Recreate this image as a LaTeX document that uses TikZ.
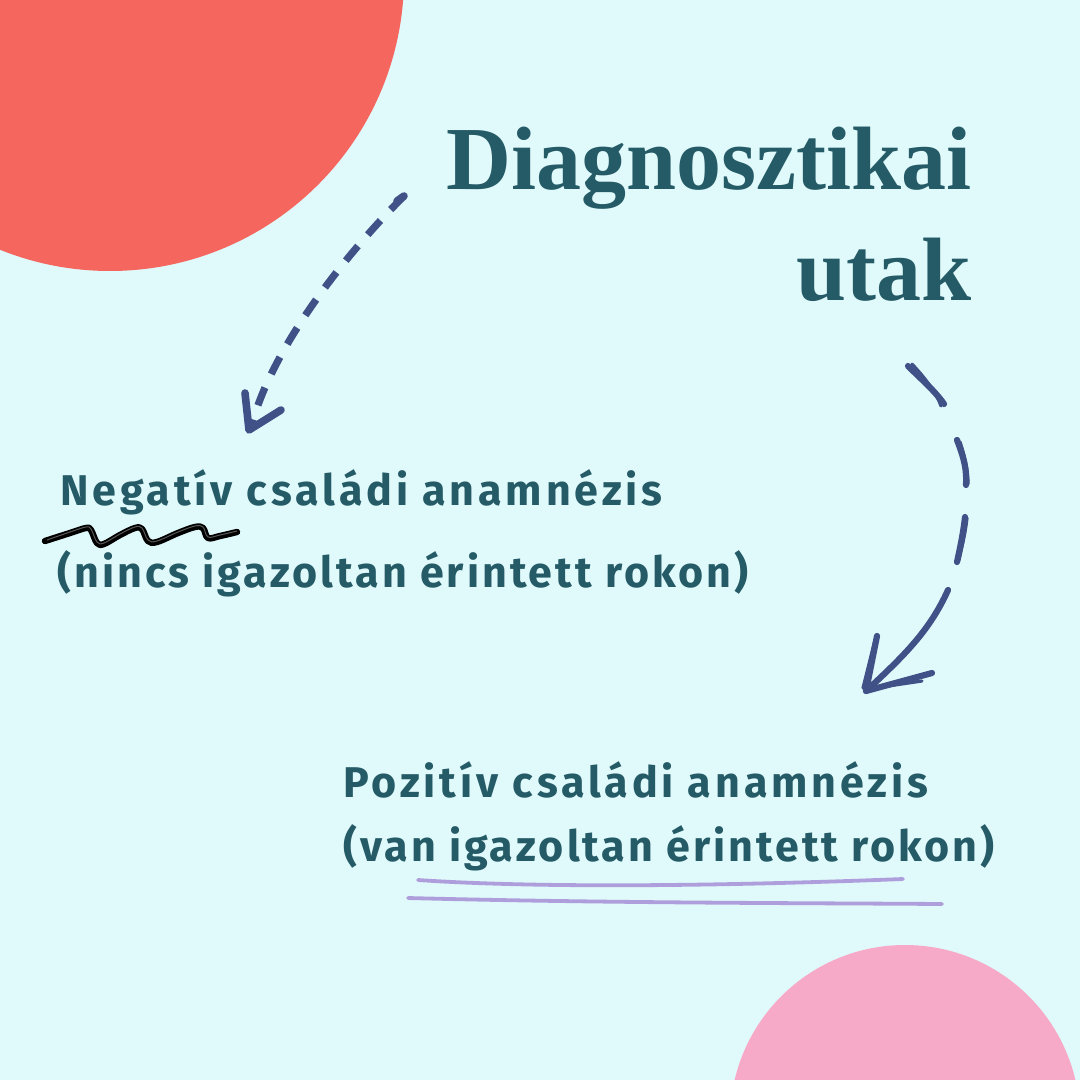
\documentclass[tikz,border=0pt]{standalone}
\usepackage{fontspec}
\newfontfamily\titlefont{Liberation Serif}
\newfontfamily\bodyfontA{Fira Sans}[LetterSpace=9]
\newfontfamily\bodyfontB{Fira Sans}[LetterSpace=7]
\definecolor{bgc}{HTML}{E0F9FB}
\definecolor{redc}{HTML}{F4665E}
\definecolor{pinkc}{HTML}{F7AAC7}
\definecolor{textc}{HTML}{245B66}
\definecolor{arrowc}{HTML}{3F5186}
\definecolor{purplec}{HTML}{AE9FDC}
\begin{document}
\begin{tikzpicture}[x=0.5pt,y=-0.5pt,
  titletext/.style={inner sep=0pt,text=textc,font=\titlefont\bfseries\fontsize{45}{50}\selectfont},
  bodytextA/.style={inner sep=0pt,text=textc,font=\bodyfontA\bfseries\fontsize{21.5}{26}\selectfont},
  bodytextB/.style={inner sep=0pt,text=textc,font=\bodyfontB\bfseries\fontsize{21.5}{26}\selectfont},
  dasharrow/.style={draw=arrowc,line width=3.6pt,dash pattern=on 9.5pt off 7.5pt},
  headstroke/.style={draw=arrowc,line width=3.8pt,line cap=round,line join=round},
  sketch/.style={draw=arrowc,line width=3.1pt,line cap=round,line join=round},
  sketchthin/.style={draw=arrowc,line width=1.6pt,line cap=round},
  underl/.style={draw=purplec,line width=1.9pt,line cap=round},
  squig/.style={draw=black,line width=3.2pt,line cap=round,line join=round}]
\useasboundingbox (0,0) rectangle (1080,1080);
\fill[bgc] (0,0) rectangle (1080,1080);
\begin{scope}
\clip (0,0) rectangle (1080,1080);
\fill[redc] (110,-23) circle[radius=294];
\fill[pinkc] (905,1120) circle[radius=175];
\end{scope}

% title
\node[titletext,anchor=base east] (t1) at (972,190) {Diagnosztikai};
\node[titletext,anchor=base east] (t2) at (972,300) {utak};

% body texts
\node[bodytextA,anchor=base west] (n1) at (60,505) {Negatív családi anamnézis};
\node[bodytextB,anchor=base west] (n2) at (57,587) {(nincs igazoltan érintett rokon)};
\node[bodytextA,anchor=base west] (p1) at (343,797) {Pozitív családi anamnézis};
\node[bodytextB,anchor=base west] (p2) at (343,861) {(van igazoltan érintett rokon)};

% left dashed arrow
\coordinate (la) at (404,196);
\coordinate (lb) at (252,424);
\draw[dasharrow] (la) .. controls (340,260) and (272,350) .. (lb);
\draw[headstroke] (397,201) -- (404,196);
\coordinate (ltip) at (249,430);
\draw[headstroke] (245,393) -- (ltip) -- (281,410);

% right sketchy arrow
\draw[sketch] (908,366) .. controls (922,380) and (935,391) .. (944,404);
\draw[sketchthin] (912,364) .. controls (925,378) and (936,392) .. (941,406);
\draw[sketch] (957,440) .. controls (964,458) and (967,470) .. (966,485);
\draw[sketchthin] (960,442) .. controls (966,460) and (968,474) .. (968,484);
\draw[sketch] (965,517) .. controls (963,535) and (960,548) .. (957,562);
\draw[sketchthin] (967,518) .. controls (965,536) and (961,550) .. (959,560);
\coordinate (rtip) at (866,691);
\draw[sketch] (948,590) .. controls (930,630) and (905,655) .. (rtip);
\draw[sketchthin] (946,594) .. controls (928,632) and (900,660) .. (868,688);
\draw[sketch] (877,636) -- (rtip) -- (932,673);
\draw[sketchthin] (875,640) -- (863,688);
\draw[sketchthin] (868,689) -- (922,681);

% squiggle under Negatív
\draw[squig] plot[smooth,tension=0.6] coordinates {(45,541) (70,533) (86,528) (91,530) (97,543) (104,544) (120,535) (135,528) (142,529) (148,541) (157,542) (178,533) (195,527) (203,528) (208,538) (220,536) (237,532)};
\draw[draw=gray!70!black,line width=0.5pt] plot[smooth,tension=0.6] coordinates {(47,540) (70,532) (86,527) (91,529) (97,542) (104,543) (120,534) (135,527) (142,528) (148,540) (157,541) (178,532) (195,526) (203,527) (208,537) (220,535) (237,531)};

% purple underlines
\draw[underl] (418,880) .. controls (550,889) and (750,885) .. (903,879);
\draw[underl] (408,898) .. controls (600,903) and (800,903) .. (942,904);
\end{tikzpicture}
\end{document}
